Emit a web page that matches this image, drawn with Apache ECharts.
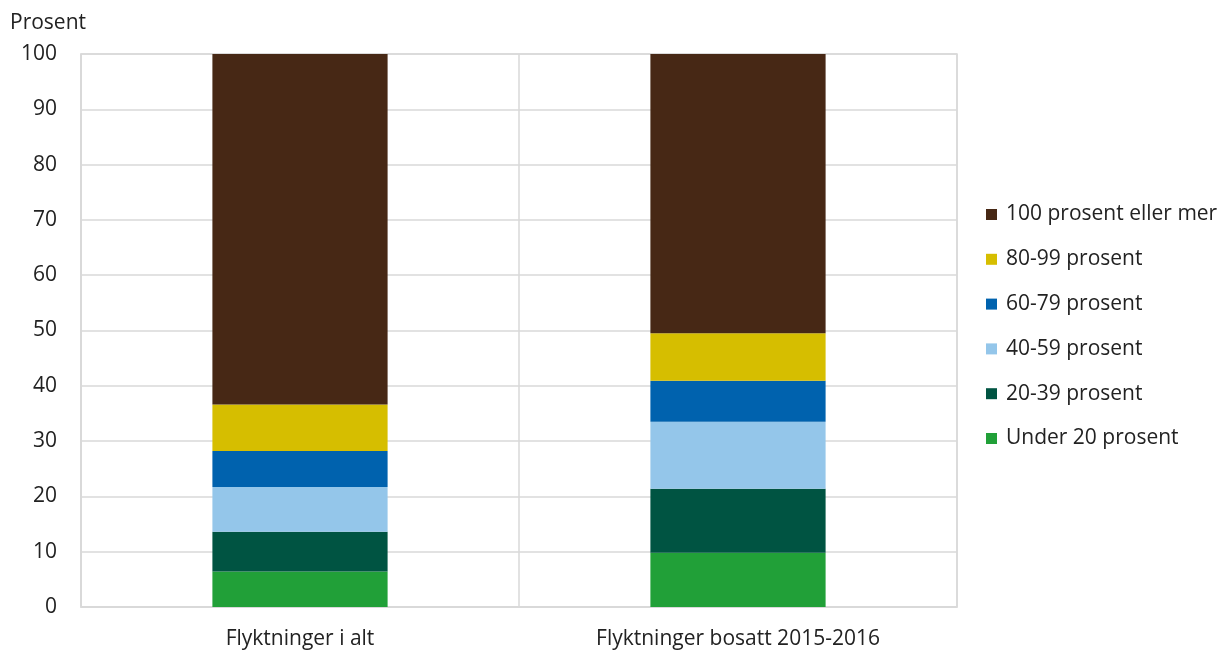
<!DOCTYPE html>
<html>
<head>
<meta charset="utf-8">
<script src="https://cdn.jsdelivr.net/npm/echarts@6/dist/echarts.min.js"></script>
<style>
  html, body { margin: 0; padding: 0; background: #fff; }
  #chart { width: 1221px; height: 650px; }
</style>
</head>
<body>
<div id="chart"></div>
<script>
// Categories along the x axis
const categories = ['Flyktninger i alt', 'Flyktninger bosatt 2015-2016'];

// Share (percent) in each income band, stacked from the bottom up
const under20 = [6.4, 9.8];
const p20to39 = [7.2, 11.6];
const p40to59 = [8.1, 12.1];
const p60to79 = [6.5, 7.4];
const p80to99 = [8.4, 8.6];
const p100plus = [63.4, 50.5];

const seriesNames = [
  'Under 20 prosent',
  '20-39 prosent',
  '40-59 prosent',
  '60-79 prosent',
  '80-99 prosent',
  '100 prosent eller mer'
];
const seriesValues = [under20, p20to39, p40to59, p60to79, p80to99, p100plus];
const seriesColors = ['#21a038', '#005442', '#94c6ea', '#0062ae', '#d6be00', '#472815'];

const yTicks = [0, 10, 20, 30, 40, 50, 60, 70, 80, 90, 100];

const fontFamily = '"Open Sans", "Noto Sans", sans-serif';
const textColor = '#222222';
const gridColor = '#d9d9d9';
const fontSize = 21;

const chart = echarts.init(document.getElementById('chart'), null, { renderer: 'canvas' });

chart.setOption({
  animation: false,
  textStyle: { fontFamily: fontFamily },
  title: {
    text: 'Prosent',
    left: 10,
    top: 13,
    padding: 0,
    textStyle: { fontFamily: fontFamily, fontSize: fontSize, fontWeight: 'normal', color: textColor }
  },
  grid: {
    left: 81,
    right: 264,
    top: 54,
    bottom: 43,
    show: true,
    borderColor: gridColor,
    borderWidth: 1.5
  },
  legend: {
    orient: 'vertical',
    left: 986,
    top: 204,
    padding: 0,
    itemWidth: 11,
    itemHeight: 11,
    itemGap: 23.8,
    icon: 'rect',
    data: seriesNames.slice().reverse(),
    textStyle: { fontFamily: fontFamily, fontSize: fontSize, color: textColor, padding: [0, 0, 0, 4] }
  },
  xAxis: {
    type: 'category',
    data: categories,
    axisLine: { show: true, lineStyle: { color: gridColor, width: 1.5 } },
    axisTick: { show: false },
    splitLine: { show: true, lineStyle: { color: gridColor, width: 1.5 } },
    axisLabel: { color: textColor, fontSize: fontSize, fontFamily: fontFamily, margin: 22 }
  },
  yAxis: {
    type: 'value',
    min: yTicks[0],
    max: yTicks[yTicks.length - 1],
    interval: yTicks[1] - yTicks[0],
    axisLine: { show: true, lineStyle: { color: gridColor, width: 1.5 } },
    axisTick: { show: false },
    splitLine: { show: true, lineStyle: { color: gridColor, width: 1.5 } },
    axisLabel: { color: textColor, fontSize: fontSize, fontFamily: fontFamily, margin: 24 }
  },
  series: seriesNames.map((name, i) => ({
    name: name,
    type: 'bar',
    stack: 'total',
    barWidth: '40%',
    data: seriesValues[i],
    itemStyle: { color: seriesColors[i] }
  }))
});
</script>
</body>
</html>
